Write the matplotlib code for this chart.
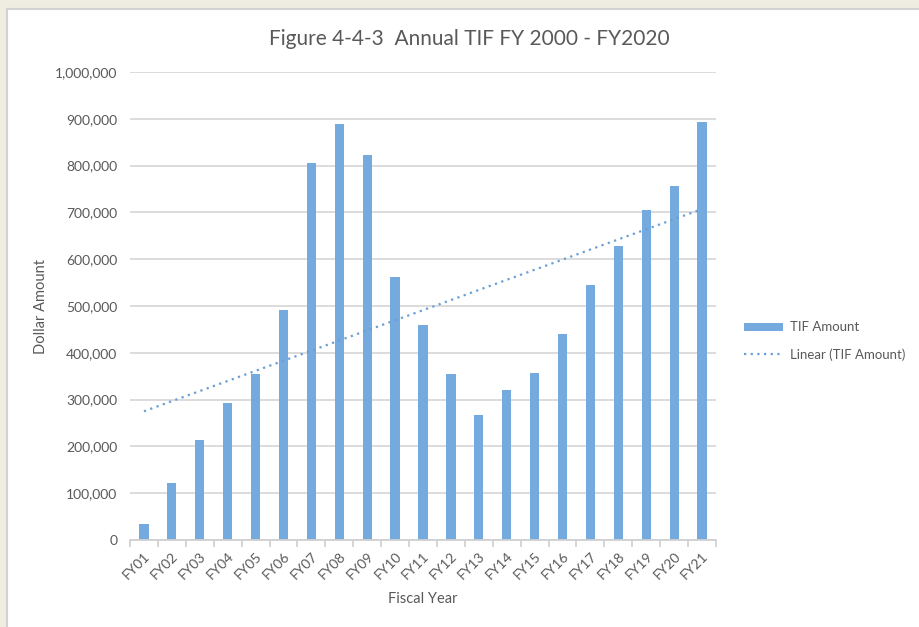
import numpy as np
import matplotlib
matplotlib.use("Agg")
import matplotlib.pyplot as plt
from matplotlib.patches import Rectangle
from matplotlib.lines import Line2D
from matplotlib.ticker import FuncFormatter, MultipleLocator

plt.rcParams['font.family'] = ['Lato', 'DejaVu Sans']

categories = ["FY01", "FY02", "FY03", "FY04", "FY05", "FY06", "FY07", "FY08", "FY09", "FY10",
              "FY11", "FY12", "FY13", "FY14", "FY15", "FY16", "FY17", "FY18", "FY19", "FY20", "FY21"]
tif_amount = [34000, 122000, 214000, 293000, 355000, 491000, 805000, 889000, 823000, 562000,
              459000, 355000, 267000, 320000, 357000, 440000, 545000, 628000, 705000, 756000, 893000]

title = "Figure 4-4-3  Annual TIF FY 2000 - FY2020"
bar_color = "#74aadd"
trend_color = "#6a9fd6"
text_color = "#595959"

fig = plt.figure(figsize=(9.2, 6.27), dpi=100)
fig.patch.set_facecolor("#efede2")
# white chart area with light border
fig.patches.append(Rectangle((7/920, -0.01), 1, 1.01 - 9/627, transform=fig.transFigure,
                             facecolor="white", edgecolor="#d2d2d2", linewidth=1.5, zorder=-10))

ax = fig.add_axes([130/920, 1 - 540/627, (716 - 130)/920, (540 - 72)/627])
ax.set_facecolor("white")
ax.set_zorder(1)

x = np.arange(len(categories))
ax.bar(x, tif_amount, width=0.33, color=bar_color, zorder=3)

coef = np.polyfit(x, tif_amount, 1)
ax.plot(x, np.polyval(coef, x), linestyle=(0, (1, 2)), color=trend_color, linewidth=1.6, zorder=4)

ax.set_xlim(-0.5, len(categories) - 0.5)
ax.set_ylim(0, 1000000)
ax.yaxis.set_major_locator(MultipleLocator(100000))
ax.yaxis.set_major_formatter(FuncFormatter(lambda v, p: f"{int(v):,}"))
ax.grid(axis="y", color="#d9d9d9", linewidth=1.3, zorder=0)
ax.set_axisbelow(True)

for s in ["top", "right", "left"]:
    ax.spines[s].set_visible(False)
ax.spines["bottom"].set_color("#d0d0d0")
ax.spines["bottom"].set_linewidth(1.3)
ax.spines["bottom"].set_zorder(5)

ax.set_xticks(x)
ax.set_xticklabels(categories, rotation=45, ha="right", rotation_mode="anchor",
                   fontsize=10, color=text_color)
ax.tick_params(axis="x", length=0, pad=7)
ax.set_xticks(np.arange(-0.5, len(categories), 1), minor=True)
ax.tick_params(axis="x", which="minor", length=5, color="#d0d0d0", width=1.2)
ax.tick_params(axis="y", length=0, pad=9, labelsize=10, labelcolor=text_color)

ax.set_xlabel("Fiscal Year", fontsize=10.5, color=text_color, labelpad=8)
ax.set_ylabel("Dollar Amount", fontsize=10.5, color=text_color, labelpad=5)

fig.text(469/920, 1 - 39/627, title, ha="center", va="center", fontsize=15, color=text_color)

handles = [Rectangle((0, 0), 1, 1, facecolor=bar_color, edgecolor="none"),
           Line2D([], [], linestyle=(0, (1, 2)), color=trend_color, linewidth=1.6)]
leg = fig.legend(handles, ["TIF Amount", "Linear (TIF Amount)"],
                 loc="center left", bbox_to_anchor=(732/920, 1 - 341/627),
                 frameon=False, fontsize=9.5, labelcolor=text_color,
                 handlelength=3.0, handleheight=0.5, labelspacing=1.1, handletextpad=0.5)

fig.savefig("out.png", dpi=100, facecolor=fig.get_facecolor())
